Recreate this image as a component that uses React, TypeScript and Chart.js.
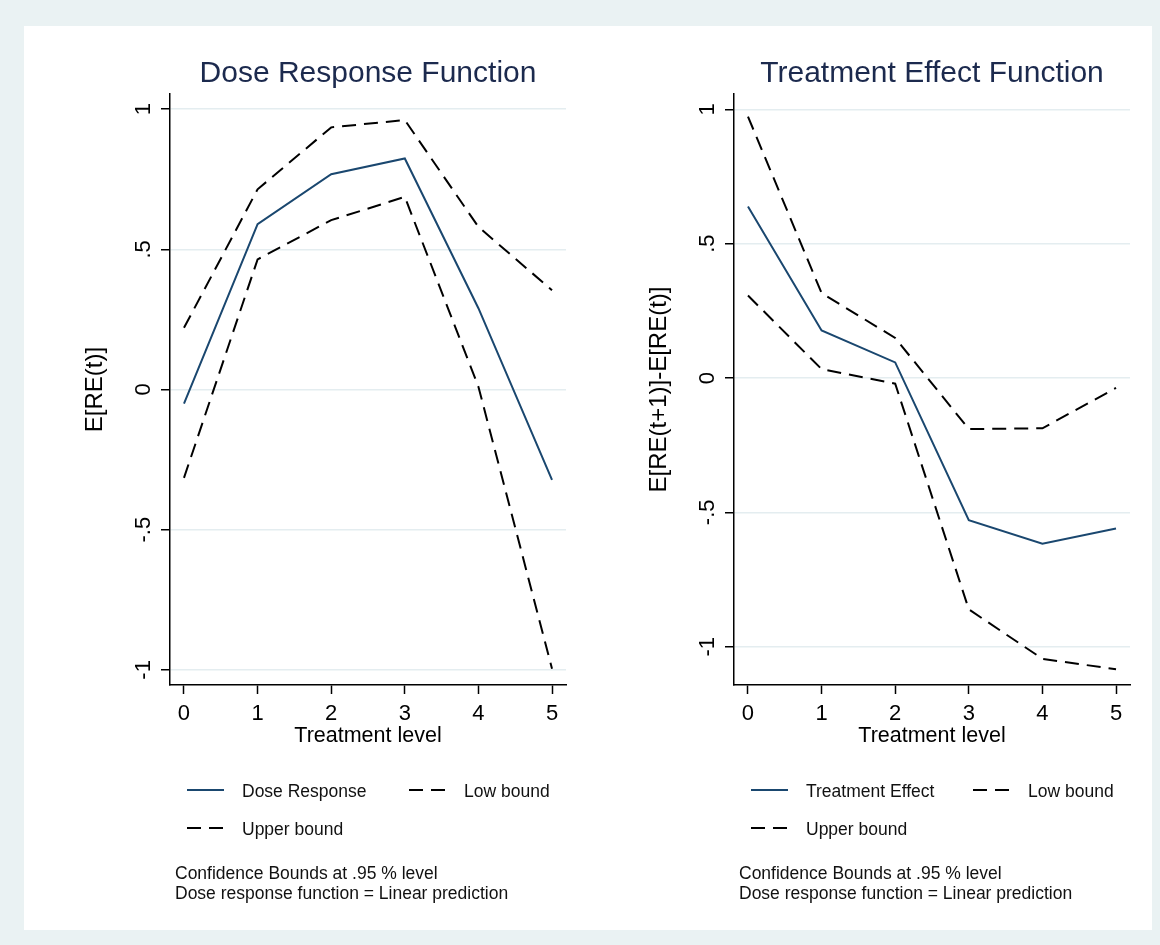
import React, { useEffect, useRef } from 'react';
import { Chart, registerables } from 'chart.js';

Chart.register(...registerables);

// ---- data ----
const treatmentLevels = [0, 1, 2, 3, 4, 5];
const xTickValues = [0, 1, 2, 3, 4, 5];
const yTickValues = [-1, -0.5, 0, 0.5, 1];
const yTickLabels = ['-1', '-.5', '0', '.5', '1'];

const doseResponse = [-0.05, 0.59, 0.768, 0.824, 0.29, -0.322];
const doseLowBound = [-0.315, 0.464, 0.604, 0.687, 0.01, -0.996];
const doseUpperBound = [0.22, 0.714, 0.935, 0.961, 0.58, 0.354];

const treatmentEffect = [0.638, 0.177, 0.058, -0.529, -0.617, -0.56];
const effectLowBound = [0.307, 0.033, -0.021, -0.861, -1.045, -1.084];
const effectUpperBound = [0.973, 0.316, 0.149, -0.19, -0.187, -0.037];

const notes = ['Confidence Bounds at .95 % level', 'Dose response function = Linear prediction'];

// ---- style ----
const FONT = '"Liberation Sans", Arial, Helvetica, sans-serif';
const NAVY = '#1a476f';
const GRID = '#e4edf0';
const TITLE_COLOR = 'rgb(28,42,78)';
const DASH = [14, 8];

function pairs(series: number[]) {
  return treatmentLevels.map((x, i) => ({ x, y: series[i] }));
}

function makeDecor(title: string) {
  return {
    id: 'panelDecor',
    afterDraw(chart: any) {
      const { ctx, chartArea } = chart;
      const left = chartArea.left;
      ctx.save();
      // title
      ctx.font = `30px ${FONT}`;
      ctx.fillStyle = TITLE_COLOR;
      ctx.textAlign = 'center';
      ctx.textBaseline = 'alphabetic';
      ctx.fillText(title, (chartArea.left + chartArea.right) / 2, 55.7);

      // legend
      const ds = chart.data.datasets;
      const slots = [
        { x: 17, tx: 72, y: 764 },
        { x: 239, tx: 294, y: 764 },
        { x: 17, tx: 72, y: 802 },
      ];
      ctx.font = `17.5px ${FONT}`;
      ctx.textAlign = 'left';
      ds.forEach((d: any, i: number) => {
        const s = slots[i];
        ctx.beginPath();
        ctx.strokeStyle = d.borderColor;
        ctx.lineWidth = 2;
        ctx.setLineDash(d.borderDash || []);
        ctx.moveTo(left + s.x, s.y);
        ctx.lineTo(left + s.x + 37, s.y);
        ctx.stroke();
        ctx.setLineDash([]);
        ctx.fillStyle = '#111';
        ctx.fillText(d.label, left + s.tx, s.y + 6.7);
      });

      // notes
      ctx.font = `17.5px ${FONT}`;
      ctx.fillStyle = '#111';
      notes.forEach((n, i) => {
        ctx.fillText(n, left + 5, 853.3 + i * 19.2);
      });
      ctx.restore();
    },
  };
}

interface PanelSpec {
  title: string;
  yTitle: string;
  mainLabel: string;
  main: number[];
  low: number[];
  upper: number[];
  yMin: number;
  yMax: number;
}

function buildConfig(spec: PanelSpec): any {
  return {
    type: 'line',
    data: {
      datasets: [
        {
          label: spec.mainLabel,
          data: pairs(spec.main),
          borderColor: NAVY,
          borderWidth: 2,
          pointRadius: 0,
          tension: 0,
          fill: false,
        },
        {
          label: 'Low bound',
          data: pairs(spec.low),
          borderColor: '#000',
          borderWidth: 2,
          borderDash: DASH,
          pointRadius: 0,
          tension: 0,
          fill: false,
        },
        {
          label: 'Upper bound',
          data: pairs(spec.upper),
          borderColor: '#000',
          borderWidth: 2,
          borderDash: DASH,
          pointRadius: 0,
          tension: 0,
          fill: false,
        },
      ],
    },
    options: {
      responsive: false,
      animation: false,
      devicePixelRatio: 1,
      layout: { padding: { left: 40, right: 22, top: 68, bottom: 165 } },
      plugins: {
        legend: { display: false },
        tooltip: { enabled: false },
        title: { display: false },
      },
      scales: {
        x: {
          type: 'linear',
          min: -0.19,
          max: 5.19,
          afterBuildTicks: (s: any) => {
            s.ticks = xTickValues.map((v) => ({ value: v }));
          },
          afterFit: (s: any) => {
            s.height = 80;
          },
          grid: {
            drawOnChartArea: false,
            drawTicks: true,
            tickLength: 9,
            tickColor: '#000',
            tickWidth: 1.5,
          },
          border: { display: true, color: '#000', width: 1.5 },
          ticks: {
            color: '#000',
            font: { family: FONT, size: 22 },
            padding: 7,
            maxRotation: 0,
            minRotation: 0,
            autoSkip: false,
            callback: (v: number) => String(v),
          },
          title: {
            display: true,
            text: 'Treatment level',
            color: '#000',
            font: { family: FONT, size: 21.5 },
            padding: { top: 0, bottom: 16 },
          },
        },
        y: {
          type: 'linear',
          min: spec.yMin,
          max: spec.yMax,
          afterBuildTicks: (s: any) => {
            s.ticks = yTickValues.map((v) => ({ value: v }));
          },
          afterFit: (s: any) => {
            s.width = 106;
          },
          grid: {
            color: GRID,
            lineWidth: 1.5,
            drawTicks: true,
            tickLength: 9,
            tickColor: '#000',
            tickWidth: 1.5,
          },
          border: { display: true, color: '#000', width: 1.5 },
          ticks: {
            color: '#000',
            font: { family: FONT, size: 22 },
            padding: 4,
            minRotation: 90,
            maxRotation: 90,
            crossAlign: 'center',
            autoSkip: false,
            callback: (v: number) => {
              const i = yTickValues.indexOf(v);
              return i >= 0 ? yTickLabels[i] : '';
            },
          },
          title: {
            display: true,
            text: spec.yTitle,
            color: '#000',
            font: { family: FONT, size: 24 },
            padding: { top: 17, bottom: 0 },
          },
        },
      },
    },
    plugins: [makeDecor(spec.title)],
  };
}

const leftSpec: PanelSpec = {
  title: 'Dose Response Function',
  yTitle: 'E[RE(t)]',
  mainLabel: 'Dose Response',
  main: doseResponse,
  low: doseLowBound,
  upper: doseUpperBound,
  yMin: -1.054,
  yMax: 1.054,
};

const rightSpec: PanelSpec = {
  title: 'Treatment Effect Function',
  yTitle: 'E[RE(t+1)]-E[RE(t)]',
  mainLabel: 'Treatment Effect',
  main: treatmentEffect,
  low: effectLowBound,
  upper: effectUpperBound,
  yMin: -1.1425,
  yMax: 1.057,
};

function Panel({ spec, left }: { spec: PanelSpec; left: number }) {
  const ref = useRef<HTMLCanvasElement | null>(null);
  useEffect(() => {
    if (!ref.current) return;
    const chart = new Chart(ref.current, buildConfig(spec));
    return () => chart.destroy();
  }, [spec]);
  return (
    <canvas
      ref={ref}
      width={564}
      height={904}
      style={{ position: 'absolute', left, top: 0, width: 564, height: 904 }}
    />
  );
}

export default function App() {
  return (
    <div
      style={{
        position: 'absolute',
        left: 0,
        top: 0,
        width: 1160,
        height: 945,
        background: '#eaf2f3',
        overflow: 'hidden',
      }}
    >
      <div
        style={{
          position: 'absolute',
          left: 24,
          top: 26,
          width: 1128,
          height: 904,
          background: '#ffffff',
        }}
      >
        <Panel spec={leftSpec} left={0} />
        <Panel spec={rightSpec} left={564} />
      </div>
    </div>
  );
}
